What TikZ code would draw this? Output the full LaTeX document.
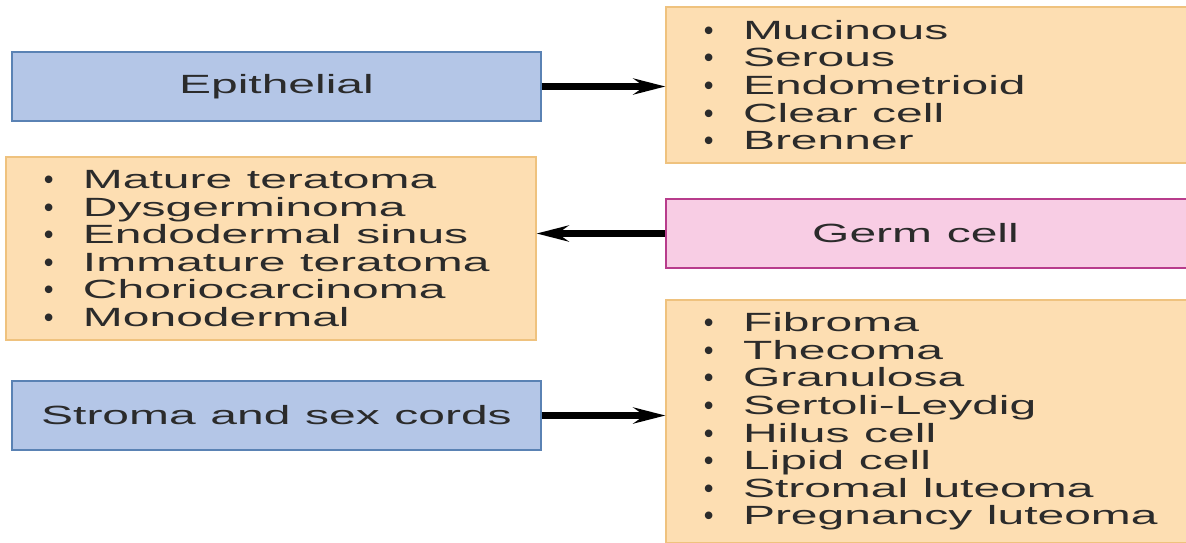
\documentclass[tikz,border=0pt]{standalone}
\usepackage{fontspec}
\usepackage{xcolor}
\usetikzlibrary{arrows.meta,positioning}
\newfontfamily\widesans[FakeStretch=1.82,WordSpace=1.1]{Liberation Sans}
\newfontfamily\plainsans{Liberation Sans}
\definecolor{hdblue}{HTML}{B4C6E7}
\definecolor{hdblueline}{HTML}{5A82B4}
\definecolor{lstfill}{HTML}{FDDEB2}
\definecolor{lstline}{HTML}{EFC27E}
\definecolor{gcfill}{HTML}{F8CDE4}
\definecolor{gcline}{HTML}{B83C8C}
\definecolor{txt}{HTML}{2B2B2B}
\newcommand\blt{\makebox[0.78cm][l]{\plainsans\bfseries •}}

\begin{document}
\begin{tikzpicture}[
  every node/.style={font=\widesans\fontsize{15}{15.7}\selectfont,text=txt},
  hd/.style={draw=hdblueline,line width=0.7pt,fill=hdblue,minimum width=10.58cm,minimum height=1.38cm},
  gc/.style={draw=gcline,line width=0.9pt,fill=gcfill,minimum width=10.6cm,minimum height=1.38cm},
  lst/.style={draw=lstline,line width=0.6pt,fill=lstfill,align=left,text width=9.08cm,inner xsep=0.76cm,
    execute at begin node={\spaceskip=0pt\xspaceskip=0pt}},
  arr/.style={line width=3.6pt,-{Stealth[length=0.64cm,width=0.32cm,inset=0.22cm]}}]
 \clip (0,0) rectangle (23.72,-10.84);
 \node[hd] (epi) at (5.53,-1.73) {Epithelial};
 \node[gc] (germ) at (18.62,-4.67) {Germ cell\hspace{0.62cm}\mbox{}};
 \node[hd] (stroma) at (5.53,-8.31) {Stroma and sex cords};
 \node[lst,minimum height=3.12cm] (eplist) at (18.62,-1.70)
   {\blt Mucinous\\ \blt Serous\\ \blt Endometrioid\\ \blt Clear cell\\ \blt Brenner};
 \node[lst,minimum height=3.66cm] (gclist) at (5.42,-4.97)
   {\blt Mature teratoma\\ \blt Dysgerminoma\\ \blt Endodermal sinus\\ \blt Immature teratoma\\ \blt Choriocarcinoma\\ \blt Monodermal};
 \node[lst,minimum height=4.86cm] (sclist) at (18.62,-8.43)
   {\blt Fibroma\\ \blt Thecoma\\ \blt Granulosa\\ \blt Sertoli-Leydig\\ \blt Hilus cell\\ \blt Lipid cell\\ \blt Stromal luteoma\\ \blt Pregnancy luteoma};
 \foreach \a/\b/\s in {epi/eplist/west,germ/gclist/east,stroma/sclist/west}
   \draw[arr] (\a) -- (\a -| \b.\s);
\end{tikzpicture}
\end{document}
